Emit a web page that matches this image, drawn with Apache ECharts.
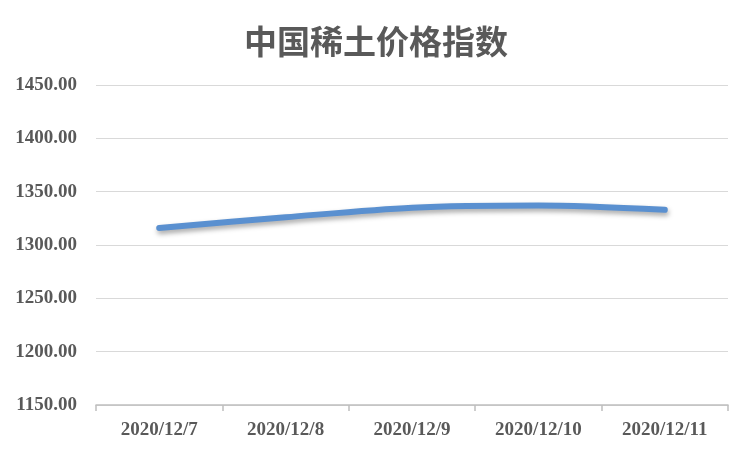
<!DOCTYPE html>
<html>
<head>
<meta charset="utf-8">
<script src="https://cdn.jsdelivr.net/npm/echarts@6/dist/echarts.min.js"></script>
<style>html,body{margin:0;padding:0;background:#fff}#c{width:752px;height:451px}</style>
</head>
<body>
<div id="c"></div>
<script>
var titleText = '中国稀土价格指数';
var categories = ['2020/12/7', '2020/12/8', '2020/12/9', '2020/12/10', '2020/12/11'];
var values = [1316, 1326, 1335, 1337, 1333];
var yMin = 1150, yMax = 1450, yStep = 50;

var chart = echarts.init(document.getElementById('c'));
chart.setOption({
  animation: false,
  backgroundColor: '#ffffff',
  title: {
    text: titleText,
    left: 'center',
    top: 20,
    textStyle: {
      fontFamily: 'Noto Sans CJK SC',
      fontSize: 33,
      fontWeight: 'bold',
      color: '#595959'
    }
  },
  grid: { left: 96, right: 24, top: 85, bottom: 46, containLabel: false },
  xAxis: {
    type: 'category',
    data: categories,
    boundaryGap: true,
    axisLine: { lineStyle: { color: '#bfbfbf', width: 1.5 } },
    axisTick: { show: true, length: 6, lineStyle: { color: '#bfbfbf', width: 1.5 } },
    axisLabel: {
      margin: 16,
      fontFamily: 'Liberation Serif',
      fontWeight: 'bold',
      fontSize: 19,
      color: '#595959'
    }
  },
  yAxis: {
    type: 'value',
    min: yMin,
    max: yMax,
    interval: yStep,
    axisLine: { show: false },
    axisTick: { show: false },
    splitLine: { lineStyle: { color: '#d9d9d9', width: 1 } },
    axisLabel: {
      margin: 19,
      fontFamily: 'Liberation Serif',
      fontWeight: 'bold',
      fontSize: 19,
      color: '#595959',
      formatter: function (v) { return v.toFixed(2); }
    }
  },
  series: [{
    type: 'line',
    data: values,
    smooth: 0.3,
    symbol: 'none',
    lineStyle: {
      color: '#5a90d0',
      width: 6,
      cap: 'round',
      shadowColor: 'rgba(0,0,0,0.35)',
      shadowBlur: 5,
      shadowOffsetX: 1,
      shadowOffsetY: 3
    }
  }]
});
</script>
</body>
</html>
